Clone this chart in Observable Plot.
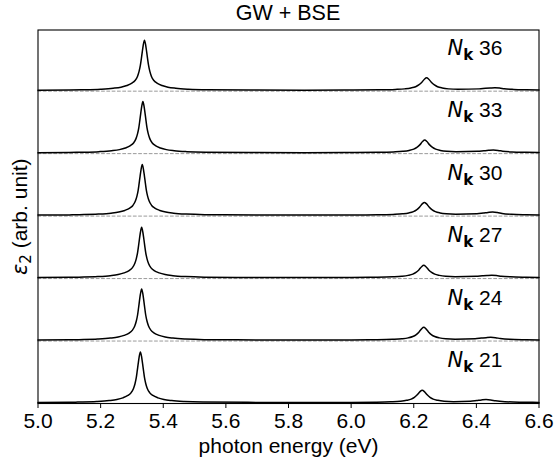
<!DOCTYPE html>
<html><head><meta charset="utf-8">
<script src="https://cdn.jsdelivr.net/npm/d3@7"></script>
<script src="https://cdn.jsdelivr.net/npm/@observablehq/plot@0.6"></script>
<style>
body{margin:0;background:#fff;}
#wrap{width:556px;font-family:"Liberation Sans",Arial,sans-serif;color:#000;}
#title{height:27px;box-sizing:border-box;padding-top:1px;padding-left:20px;line-height:24px;font-size:21.5px;text-align:center;}
</style></head><body>
<div id="wrap"><div id="title">GW + BSE</div><div id="chart"></div></div>
<script>
// N_k values, top panel first
const nkLabels = [36, 33, 30, 27, 24, 21];
const xTicks = [5.0, 5.2, 5.4, 5.6, 5.8, 6.0, 6.2, 6.4, 6.6];
const xLabel = "photon energy (eV)";
const yLabel = "ε2 (arb. unit)";

// spectra [photon energy (eV), eps2 (arb. unit)]
const nk36 = [[5.00,0.019],[5.10,0.023],[5.14,0.027],[5.20,0.038],[5.24,0.056],[5.265,0.077],[5.284,0.109],[5.300,0.154],[5.310,0.205],[5.318,0.288],[5.323,0.384],[5.327,0.50],[5.330,0.62],[5.333,0.755],[5.336,0.88],[5.340,0.98],[5.344,0.88],[5.347,0.755],[5.350,0.62],[5.353,0.50],[5.357,0.384],[5.362,0.288],[5.370,0.205],[5.380,0.154],[5.396,0.109],[5.415,0.077],[5.440,0.056],[5.480,0.038],[5.540,0.027],[5.70,0.021],[5.85,0.019],[6.00,0.021],
 [6.091,0.025],[6.141,0.033],[6.171,0.044],[6.191,0.061],[6.206,0.086],[6.216,0.119],[6.226,0.173],[6.234,0.230],[6.241,0.257],[6.248,0.230],[6.256,0.173],[6.266,0.119],[6.276,0.086],[6.291,0.061],[6.311,0.044],[6.341,0.036],
 [6.409,0.044],[6.429,0.054],[6.444,0.060],[6.459,0.065],[6.474,0.059],[6.489,0.046],[6.519,0.033],[6.56,0.025],[6.60,0.021]];
const nk33 = [[5.00,0.019],[5.10,0.023],[5.135,0.027],[5.195,0.038],[5.235,0.056],[5.260,0.077],[5.279,0.109],[5.295,0.154],[5.305,0.205],[5.313,0.288],[5.318,0.384],[5.322,0.50],[5.325,0.63],[5.328,0.77],[5.331,0.90],[5.335,1.00],[5.339,0.90],[5.342,0.77],[5.345,0.63],[5.348,0.50],[5.352,0.384],[5.357,0.288],[5.365,0.205],[5.375,0.154],[5.391,0.109],[5.410,0.077],[5.435,0.056],[5.475,0.038],[5.535,0.027],[5.70,0.021],[5.85,0.019],[6.00,0.021],
 [6.085,0.025],[6.135,0.033],[6.165,0.044],[6.185,0.061],[6.200,0.086],[6.210,0.119],[6.220,0.173],[6.228,0.232],[6.235,0.261],[6.242,0.232],[6.250,0.173],[6.260,0.119],[6.270,0.086],[6.285,0.061],[6.305,0.044],[6.335,0.036],
 [6.404,0.044],[6.424,0.055],[6.439,0.063],[6.454,0.069],[6.469,0.062],[6.484,0.048],[6.514,0.033],[6.56,0.025],[6.60,0.021]];
const nk30 = [[5.00,0.019],[5.10,0.023],[5.133,0.027],[5.193,0.038],[5.233,0.056],[5.258,0.077],[5.277,0.109],[5.293,0.154],[5.303,0.205],[5.311,0.288],[5.316,0.384],[5.320,0.50],[5.323,0.63],[5.326,0.765],[5.329,0.89],[5.333,0.99],[5.337,0.89],[5.340,0.765],[5.343,0.63],[5.346,0.50],[5.350,0.384],[5.355,0.288],[5.363,0.205],[5.373,0.154],[5.389,0.109],[5.408,0.077],[5.433,0.056],[5.473,0.038],[5.533,0.027],[5.70,0.021],[5.85,0.019],[6.00,0.021],
 [6.084,0.025],[6.134,0.033],[6.164,0.044],[6.184,0.061],[6.199,0.087],[6.209,0.120],[6.219,0.175],[6.227,0.234],[6.234,0.263],[6.241,0.234],[6.249,0.175],[6.259,0.120],[6.269,0.087],[6.284,0.061],[6.304,0.044],[6.334,0.036],
 [6.402,0.045],[6.422,0.058],[6.437,0.069],[6.452,0.077],[6.467,0.068],[6.482,0.051],[6.512,0.034],[6.56,0.025],[6.60,0.021]];
const nk27 = [[5.00,0.019],[5.10,0.023],[5.131,0.027],[5.191,0.038],[5.231,0.056],[5.256,0.077],[5.275,0.109],[5.291,0.154],[5.301,0.205],[5.309,0.288],[5.314,0.384],[5.318,0.50],[5.321,0.625],[5.324,0.76],[5.327,0.885],[5.331,0.985],[5.335,0.885],[5.338,0.76],[5.341,0.625],[5.344,0.50],[5.348,0.384],[5.353,0.288],[5.361,0.205],[5.371,0.154],[5.387,0.109],[5.406,0.077],[5.431,0.056],[5.471,0.038],[5.531,0.027],[5.70,0.021],[5.85,0.019],[6.00,0.021],
 [6.082,0.025],[6.132,0.033],[6.162,0.044],[6.182,0.061],[6.197,0.085],[6.207,0.118],[6.217,0.171],[6.225,0.228],[6.232,0.255],[6.239,0.228],[6.247,0.171],[6.257,0.118],[6.267,0.085],[6.282,0.061],[6.302,0.044],[6.332,0.036],
 [6.399,0.044],[6.419,0.053],[6.434,0.059],[6.449,0.063],[6.464,0.058],[6.479,0.046],[6.509,0.033],[6.56,0.025],[6.60,0.021]];
const nk24 = [[5.00,0.019],[5.10,0.023],[5.131,0.027],[5.191,0.038],[5.231,0.056],[5.256,0.077],[5.275,0.109],[5.291,0.154],[5.301,0.205],[5.309,0.288],[5.314,0.384],[5.318,0.50],[5.321,0.63],[5.324,0.77],[5.327,0.90],[5.331,1.00],[5.335,0.90],[5.338,0.77],[5.341,0.63],[5.344,0.50],[5.348,0.384],[5.353,0.288],[5.361,0.205],[5.371,0.154],[5.387,0.109],[5.406,0.077],[5.431,0.056],[5.471,0.038],[5.531,0.027],[5.70,0.021],[5.85,0.019],[6.00,0.021],
 [6.082,0.025],[6.132,0.033],[6.162,0.044],[6.182,0.061],[6.197,0.087],[6.207,0.120],[6.217,0.175],[6.225,0.234],[6.232,0.263],[6.239,0.234],[6.247,0.175],[6.257,0.120],[6.267,0.087],[6.282,0.061],[6.302,0.044],[6.332,0.036],
 [6.396,0.044],[6.416,0.056],[6.431,0.065],[6.446,0.071],[6.461,0.064],[6.476,0.049],[6.506,0.033],[6.56,0.025],[6.60,0.021]];
const nk21 = [[5.00,0.019],[5.10,0.023],[5.127,0.027],[5.187,0.038],[5.227,0.056],[5.252,0.077],[5.271,0.109],[5.287,0.154],[5.297,0.205],[5.305,0.288],[5.310,0.384],[5.314,0.50],[5.317,0.63],[5.320,0.765],[5.323,0.89],[5.327,0.99],[5.331,0.89],[5.334,0.765],[5.337,0.63],[5.340,0.50],[5.344,0.384],[5.349,0.288],[5.357,0.205],[5.367,0.154],[5.383,0.109],[5.402,0.077],[5.427,0.056],[5.467,0.038],[5.527,0.027],[5.70,0.021],[5.85,0.019],[6.00,0.021],
 [6.077,0.025],[6.127,0.033],[6.157,0.044],[6.177,0.061],[6.192,0.085],[6.202,0.118],[6.212,0.171],[6.220,0.228],[6.227,0.255],[6.234,0.228],[6.242,0.171],[6.252,0.118],[6.262,0.085],[6.277,0.061],[6.297,0.044],[6.327,0.036],
 [6.381,0.045],[6.401,0.058],[6.416,0.069],[6.431,0.077],[6.446,0.068],[6.461,0.051],[6.491,0.034],[6.55,0.025],[6.60,0.021]];
const spectra = [nk36, nk33, nk30, nk27, nk24, nk21];

// layout constants
const OFFSET = 1.2;          // vertical shift between stacked spectra
const labelX = 6.308, labelY = 0.83;
const n = nkLabels.length;
const offsetOf = i => (n - 1 - i) * OFFSET;

const rows = spectra.flatMap((s, i) => s.map(([x, y]) => ({nk: nkLabels[i], x, y: y + offsetOf(i)})));
const baselines = nkLabels.map((_, i) => offsetOf(i));
const labelRows = nkLabels.map((nk, i) => ({x: labelX, y: offsetOf(i) + labelY, text: "N_k " + nk}));

const chart = Plot.plot({
  width: 556, height: 435,
  marginLeft: 37.5, marginRight: 17.5, marginTop: 2.5, marginBottom: 59,
  style: {fontFamily: "'Liberation Sans', Arial, sans-serif", fontSize: "21px", background: "white", color: "black", overflow: "visible"},
  x: {domain: [5.0, 6.6], ticks: xTicks, tickFormat: d => d.toFixed(1), tickSize: 5, tickPadding: 5, label: null},
  y: {domain: [0, 7.175], axis: null},
  marks: [
    Plot.ruleY(baselines, {stroke: "#9a9a9a", strokeWidth: 1, strokeDasharray: "3.7,1.6"}),
    Plot.line(rows, {x: "x", y: "y", z: "nk", stroke: "black", strokeWidth: 1.5, curve: "monotone-x"}),
    Plot.text(labelRows, {x: "x", y: "y", text: "text", textAnchor: "start", fontSize: 21}),
    Plot.text([xLabel], {frameAnchor: "bottom", dy: 35, lineAnchor: "top", fontSize: 21}),
    Plot.text([yLabel], {frameAnchor: "left", dx: -18, rotate: -90, textAnchor: "middle", lineAnchor: "middle", fontSize: 21}),
    Plot.frame({stroke: "black", strokeWidth: 1.1})
  ]
});
document.getElementById("chart").appendChild(chart);

// rich text: italic N with bold subscript k; epsilon with subscript 2
d3.select(chart).selectAll("text").each(function() {
  const t = this.textContent;
  const sel = d3.select(this);
  if (t.startsWith("N_k ")) {
    sel.text(null);
    sel.append("tspan").attr("font-family", "DejaVu Sans").attr("font-style", "italic").text("N");
    sel.append("tspan").attr("font-family", "DejaVu Sans").attr("font-weight", "bold").attr("font-size", 15).attr("dy", 5).text("k");
    sel.append("tspan").attr("dy", -5).text(" " + t.slice(4));
  } else if (t === yLabel) {
    sel.text(null);
    sel.append("tspan").attr("font-family", "DejaVu Sans").attr("font-style", "italic").text("ε");
    sel.append("tspan").attr("font-family", "DejaVu Sans").attr("font-size", 15).attr("dy", 4).text("2");
    sel.append("tspan").attr("dy", -4).text(" (arb. unit)");
  }
});
</script>
</body></html>
